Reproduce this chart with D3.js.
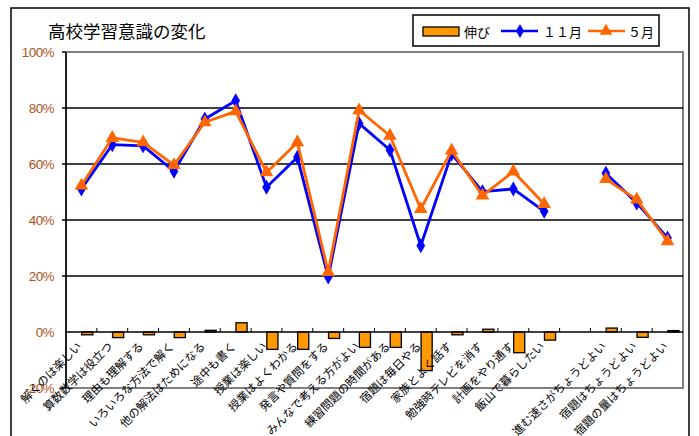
<!DOCTYPE html>
<html><head><meta charset="utf-8">
<script src="https://cdn.jsdelivr.net/npm/d3@7"></script>
<style>body{margin:0;background:#fff}svg{display:block}</style>
</head><body>
<svg id="c" width="699" height="436"></svg>
<script>
const categories = ["解くのは楽しい","算数数学は役立つ","理由も理解する","いろいろな方法で解く","他の解法はためになる","途中も書く","授業は楽しい","授業はよくわかる","発言や質問をする","みんなで考える方がよい","練習問題の時間がある","宿題は毎日やる","家族とよく話す","勉強時テレビを消す","計画をやり通す","飯山で暮らしたい","","進む速さがちょうどよい","宿題はちょうどよい","宿題の量はちょうどよい"];
const nov = [51.1,66.9,66.5,57.4,76.1,82.6,51.7,62.4,19.6,74.5,65,30.8,63.6,50.1,51.1,43.1,null,56.7,46.1,33.6];
const may = [52.3,69.3,67.7,59.6,74.9,78.8,57,67.7,21.4,79.2,70.1,43.9,64.8,48.7,57.3,45.7,null,54.6,47.3,32.4];
const growth = [-1,-2,-1,-2,0.6,3.3,-6.2,-6.2,-2.3,-5.5,-5.5,-13.8,-1,1,-7.4,-2.9,null,1.4,-1.9,0.5];
const yTicks = [-20,0,20,40,60,80,100];
const title = "高校学習意識の変化";
const legendLabels = ["伸び","１１月","５月"];

const svg = d3.select("#c");
const L=66,R=683,T=52,B=388;
const x = d3.scaleBand().domain(d3.range(categories.length)).range([L,R]).padding(0);
const y = d3.scaleLinear().domain([-20,100]).range([B,T]);
const bw = x.bandwidth();
const cx = i => x(i)+bw/2;

// outer frame
svg.append("rect").attr("x",11).attr("y",8).attr("width",678).attr("height",440).attr("fill","#fff").attr("stroke","#000").attr("stroke-width",1.5);

// title
svg.append("text").attr("x",48).attr("y",38).attr("font-family","Noto Sans CJK JP").attr("font-size",17.5).attr("fill","#000").text(title);

// plot area border
svg.append("rect").attr("x",L).attr("y",T).attr("width",R-L).attr("height",B-T).attr("fill","none").attr("stroke","#808080").attr("stroke-width",2);

// gridlines
svg.append("g").selectAll("line").data(yTicks.filter(v=>v>0&&v<100)).join("line")
  .attr("x1",L-4).attr("x2",R).attr("y1",d=>y(d)).attr("y2",d=>y(d)).attr("stroke","#000").attr("stroke-width",1.5);
svg.append("line").attr("x1",L-4).attr("x2",L).attr("y1",y(100)).attr("y2",y(100)).attr("stroke","#000").attr("stroke-width",1.5);
svg.append("line").attr("x1",L-4).attr("x2",L).attr("y1",y(-20)).attr("y2",y(-20)).attr("stroke","#000").attr("stroke-width",1.5);

// y axis labels
const ya = d3.axisLeft(y).tickValues(yTicks).tickFormat(d=>d+"%").tickSize(0).tickPadding(12);
const yg = svg.append("g").attr("transform",`translate(${L},0)`).call(ya);
yg.select(".domain").remove();
yg.selectAll("text").attr("font-family","Liberation Sans, Arial").attr("font-size",13.5).attr("fill","#b0501a").attr("letter-spacing","-0.6");
svg.append("line").attr("x1",L).attr("x2",L).attr("y1",T).attr("y2",B).attr("stroke","#000").attr("stroke-width",1.5);

// bars
svg.append("g").selectAll("rect").data(growth.map((v,i)=>({v,i})).filter(d=>d.v!==null)).join("rect")
  .attr("x",d=>cx(d.i)+0.3).attr("width",bw*0.36)
  .attr("y",d=>Math.min(y(d.v),y(0))).attr("height",d=>Math.abs(y(d.v)-y(0)))
  .attr("fill","#ff9900").attr("stroke","#000").attr("stroke-width",1.3);

// zero axis with ticks
svg.append("line").attr("x1",L).attr("x2",R).attr("y1",y(0)).attr("y2",y(0)).attr("stroke","#000").attr("stroke-width",1.5);
svg.append("g").selectAll("line").data(d3.range(1,categories.length)).join("line")
  .attr("x1",d=>x(d)).attr("x2",d=>x(d)).attr("y1",y(0)).attr("y2",y(0)-4).attr("stroke","#000").attr("stroke-width",1);

// x labels
svg.append("g").selectAll("text").data(categories).join("text")
  .attr("transform",(d,i)=>`translate(${cx(i)+1},${y(0)+15}) rotate(-45)`)
  .attr("text-anchor","end").attr("font-family","Noto Sans CJK JP").attr("font-size",11.5).attr("fill","#000").text(d=>d);

// lines
const line = d3.line().defined(d=>d.v!==null).x(d=>cx(d.i)).y(d=>y(d.v));
const novD = nov.map((v,i)=>({v,i})), mayD = may.map((v,i)=>({v,i}));
svg.append("path").datum(novD).attr("d",line).attr("fill","none").attr("stroke","#0000ff").attr("stroke-width",2.8).attr("stroke-linejoin","round");
svg.append("g").selectAll("path").data(novD.filter(d=>d.v!==null)).join("path")
  .attr("transform",d=>`translate(${cx(d.i)},${y(d.v)})`).attr("d",d3.symbol(d3.symbolDiamond,65)).attr("fill","#0000ff");
svg.append("path").datum(mayD).attr("d",line).attr("fill","none").attr("stroke","#ff6600").attr("stroke-width",2.8).attr("stroke-linejoin","round");
svg.append("g").selectAll("path").data(mayD.filter(d=>d.v!==null)).join("path")
  .attr("transform",d=>`translate(${cx(d.i)},${y(d.v)})`).attr("d",d3.symbol(d3.symbolTriangle,80)).attr("fill","#ff6600");

// legend
const lg = svg.append("g");
lg.append("rect").attr("x",413).attr("y",15).attr("width",246).attr("height",31).attr("fill","#fff").attr("stroke","#000").attr("stroke-width",1.5);
lg.append("rect").attr("x",423).attr("y",27).attr("width",36).attr("height",9).attr("fill","#ff9900").attr("stroke","#000").attr("stroke-width",1.3);
lg.append("text").attr("x",464).attr("y",37).attr("font-family","Noto Sans CJK JP").attr("font-size",13).text(legendLabels[0]);
lg.append("line").attr("x1",501).attr("x2",538).attr("y1",31).attr("y2",31).attr("stroke","#0000ff").attr("stroke-width",2.5);
lg.append("path").attr("transform","translate(520,31)").attr("d",d3.symbol(d3.symbolDiamond,55)).attr("fill","#0000ff");
lg.append("text").attr("x",543).attr("y",37).attr("font-family","Noto Sans CJK JP").attr("font-size",13).text(legendLabels[1]);
lg.append("line").attr("x1",588).attr("x2",625).attr("y1",31).attr("y2",31).attr("stroke","#ff6600").attr("stroke-width",2.5);
lg.append("path").attr("transform","translate(606,31)").attr("d",d3.symbol(d3.symbolTriangle,70)).attr("fill","#ff6600");
lg.append("text").attr("x",628).attr("y",37).attr("font-family","Noto Sans CJK JP").attr("font-size",13).text(legendLabels[2]);
</script>
</body></html>
